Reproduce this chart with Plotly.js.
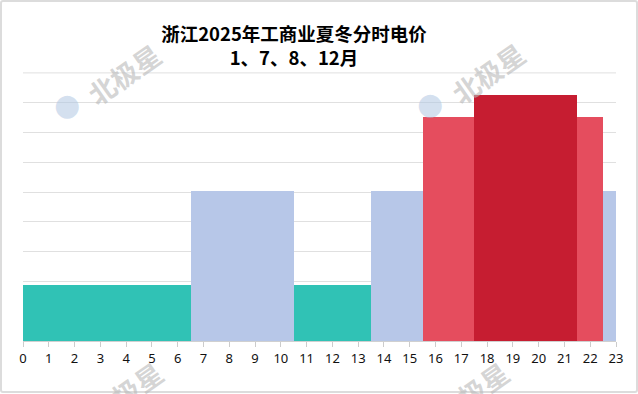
<!DOCTYPE html>
<html>
<head>
<meta charset="utf-8">
<script src="https://cdn.plot.ly/plotly-3.0.1.min.js"></script>
<style>
  html, body { margin: 0; padding: 0; background: #ffffff; }
  #wrap { position: relative; width: 638px; height: 394px; overflow: hidden; }
  #chart { width: 638px; height: 394px; }
  #frame { position: absolute; left: 0; top: 0; width: 638px; height: 393px; box-sizing: border-box;
           border: 2px solid #dcdcdc; border-radius: 3px; pointer-events: none; }
  .wm { position: absolute; pointer-events: none; white-space: nowrap; line-height: 1;
        font-family: "Noto Sans CJK SC", sans-serif; font-weight: bold; font-size: 27px;
        color: rgba(185,185,185,0.6); transform: translate(-50%, -50%) rotate(-35deg); }
</style>
</head>
<body>
<div id="wrap"><div id="chart"></div><div id="frame"></div></div>
<script>
// Hours of the day
const hours = [0,1,2,3,4,5,6,7,8,9,10,11,12,13,14,15,16,17,18,19,20,21,22,23];
// Period of each hour: 谷 (valley), 平 (flat), 峰 (peak), 尖 (sharp peak)
const periods = ['谷','谷','谷','谷','谷','谷','谷','平','平','平','平','谷','谷','谷','平','平','峰','峰','尖','尖','尖','尖','峰','平'];
// Relative price level for each period
const periodNames = ['谷','平','峰','尖'];
const periodValues = [0.188, 0.502, 0.751, 0.826];
const periodColors = ['#30C2B5', '#B7C7E8', '#E54D5E', '#C61D31'];
const tickLabels = hours.map(String);
const gridVals = [0.1, 0.2, 0.3, 0.4, 0.5, 0.6, 0.7, 0.8, 0.9];
const watermarkText = '北极星';

const values = periods.map(p => periodValues[periodNames.indexOf(p)]);
const colors = periods.map(p => periodColors[periodNames.indexOf(p)]);

const trace = {
  type: 'bar',
  x: hours,
  y: values,
  width: 1,
  marker: { color: colors, line: { width: 0 } },
  hoverinfo: 'x+y'
};

const TOP = 72, BOT = 341, LEFT = 23, RIGHT = 616;
function px(x) { return (x - LEFT) / (RIGHT - LEFT); }
function py(y) { return (BOT - y) / (BOT - TOP); }
const wmLogo = { family: 'DejaVu Sans', size: 30, color: 'rgba(175,198,226,0.55)' };
const annotations = [
  { text: '●', x: px(67), y: py(104), font: wmLogo },
  { text: '●', x: px(430), y: py(103), font: wmLogo }
].map(a => Object.assign({ xref: 'paper', yref: 'paper', showarrow: false, xanchor: 'center', yanchor: 'middle' }, a));

// top gridline drawn explicitly (it sits on the plot edge)
const shapes = [{
  type: 'line', xref: 'paper', yref: 'y', x0: 0, x1: 1, y0: gridVals[gridVals.length - 1], y1: gridVals[gridVals.length - 1],
  line: { color: '#e0e0e0', width: 1 }, layer: 'below'
}];

const layout = {
  width: 638,
  height: 394,
  margin: { l: LEFT, r: 638 - RIGHT, t: TOP, b: 394 - BOT, pad: 0 },
  paper_bgcolor: '#ffffff',
  plot_bgcolor: '#ffffff',
  showlegend: false,
  bargap: 0,
  title: {
    text: '<b>浙江2025年工商业夏冬分时电价</b><br><b>1、7、8、12月</b>',
    font: { family: '"Noto Sans CJK SC", sans-serif', size: 18.5, color: '#000000' },
    x: 294 / 638,
    xanchor: 'center',
    xref: 'container',
    y: 1 - 41 / 394,
    yanchor: 'middle',
    yref: 'container'
  },
  xaxis: {
    range: [0, 23],
    tickmode: 'array',
    tickvals: hours,
    ticktext: tickLabels,
    ticks: 'outside',
    ticklen: 5,
    tickcolor: '#cccccc',
    showline: true,
    linecolor: '#d0d0d0',
    linewidth: 1,
    showgrid: false,
    zeroline: false,
    tickfont: { family: '"Noto Sans", sans-serif', size: 13, color: '#111111' },
    fixedrange: true
  },
  yaxis: {
    range: [0, 0.903],
    tickmode: 'array',
    tickvals: gridVals,
    showticklabels: false,
    showgrid: true,
    gridcolor: '#e0e0e0',
    gridwidth: 1,
    zeroline: false,
    showline: false,
    fixedrange: true
  },
  shapes: shapes,
  annotations: annotations
};

Plotly.newPlot('chart', [trace], layout, { displayModeBar: false });

// tilted watermark texts (centres in page pixels)
const wmCentres = [[124, 74], [488, 73], [126, 392], [472, 392]];
const wrap = document.getElementById('wrap');
wmCentres.forEach(function (c) {
  const d = document.createElement('div');
  d.className = 'wm';
  d.textContent = watermarkText;
  d.style.left = c[0] + 'px';
  d.style.top = c[1] + 'px';
  wrap.appendChild(d);
});
</script>
</body>
</html>
